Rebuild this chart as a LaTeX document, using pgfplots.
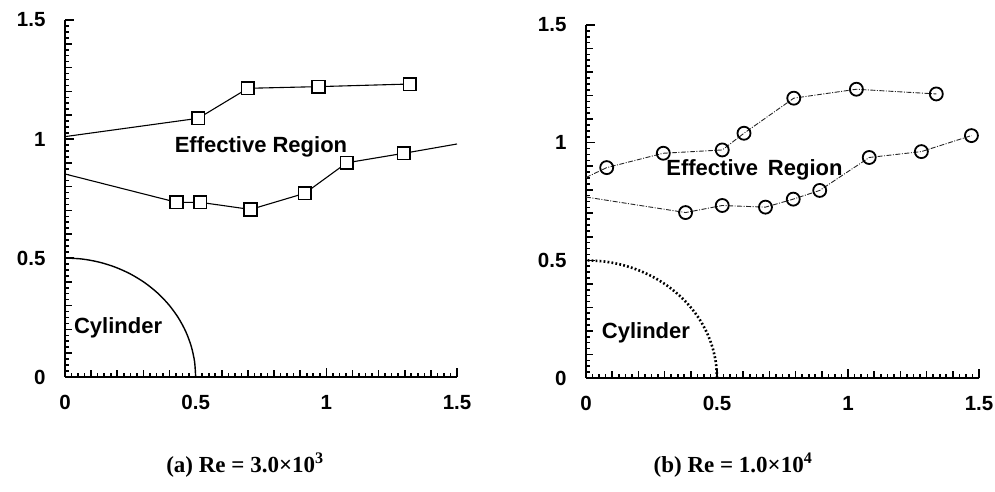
\documentclass[border=0pt]{standalone}
\usepackage{fontspec}
\setmainfont{Liberation Sans}
\newfontfamily\capfont{Liberation Serif}
\usepackage{pgfplots}
\pgfplotsset{compat=1.18}
\tikzset{lbl/.style={font=\bfseries\fontsize{22}{22}\selectfont}}
\pgfplotsset{
 panel/.style={
  scale only axis, clip=false,
  xmin=0,xmax=1.5,ymin=0,ymax=1.5,
  axis x line*=bottom, axis y line*=left,
  axis line style={-, line width=2.6pt},
  xtick={0,0.5,1,1.5}, ytick={0,0.5,1,1.5},
  xticklabels={0,0.5,1,1.5}, yticklabels={0,0.5,1,1.5},
  extra x ticks={0.1,0.2,0.3,0.4,0.6,0.7,0.8,0.9,1.1,1.2,1.3,1.4},
  extra y ticks={0.1,0.2,0.3,0.4,0.6,0.7,0.8,0.9,1.1,1.2,1.3,1.4},
  extra x tick labels={}, extra y tick labels={},
  extra tick style={major tick length=7pt},
  minor xtick={0.025,0.05,0.075,0.125,0.15,0.175,0.225,0.25,0.275,0.325,0.35,0.375,0.425,0.45,0.475,0.525,0.55,0.575,0.625,0.65,0.675,0.725,0.75,0.775,0.825,0.85,0.875,0.925,0.95,0.975,1.025,1.05,1.075,1.125,1.15,1.175,1.225,1.25,1.275,1.325,1.35,1.375,1.425,1.45,1.475},
  minor ytick={0.025,0.05,0.075,0.125,0.15,0.175,0.225,0.25,0.275,0.325,0.35,0.375,0.425,0.45,0.475,0.525,0.55,0.575,0.625,0.65,0.675,0.725,0.75,0.775,0.825,0.85,0.875,0.925,0.95,0.975,1.025,1.05,1.075,1.125,1.15,1.175,1.225,1.25,1.275,1.325,1.35,1.375,1.425,1.45,1.475},
  minor tick length=3.5pt,
  major tick length=9pt,
  every tick/.style={line width=1.6pt, black},
  tick align=inside,
  tick label style={font=\bfseries\fontsize{20.5}{20.5}\selectfont},
  xticklabel style={yshift=-15pt},
  yticklabel style={xshift=-16pt},
 },
 sqline/.style={black, line width=1.1pt},
 sqmark/.style={only marks, mark=square*, mark size=6.3pt, mark options={fill=white, draw=black, line width=1.6pt}},
 cirline/.style={black!85, line width=0.9pt, dash pattern=on 5pt off 1.5pt on 1pt off 1.5pt},
 cirmark/.style={only marks, mark=o, mark size=6.5pt, mark options={draw=black, line width=1.8pt, solid}},
}
\begin{document}
\begin{tikzpicture}[x=1pt,y=1pt]
\useasboundingbox (0,0) rectangle (995,492);
% ---------------- (a) ----------------
\begin{axis}[panel, at={(65pt,115pt)}, anchor=south west, width=392pt, height=357pt]
\addplot[sqline] coordinates {(0,1.01) (0.51,1.087) (0.70,1.213) (0.97,1.22) (1.32,1.231)};
\addplot[sqmark] coordinates {(0.51,1.087) (0.70,1.213) (0.97,1.22) (1.32,1.231)};
\addplot[sqline] coordinates {(0,0.853) (0.427,0.734) (0.517,0.734) (0.71,0.704) (0.918,0.772) (1.078,0.90) (1.297,0.94) (1.5,0.979)};
\addplot[sqmark] coordinates {(0.427,0.734) (0.517,0.734) (0.71,0.704) (0.918,0.772) (1.078,0.90) (1.297,0.94)};
\addplot[black, line width=1.4pt, smooth] coordinates {(0.5,0) (0.49572,0.06526) (0.48296,0.12941) (0.46194,0.19134) (0.43301,0.25) (0.39668,0.30438) (0.35355,0.35355) (0.30438,0.39668) (0.25,0.43301) (0.19134,0.46194) (0.12941,0.48296) (0.06526,0.49572) (0,0.5)};
\node[lbl] at (axis cs:0.75,0.966) {Effective Region};
\node[lbl, anchor=west, inner sep=0pt] at (axis cs:0.034,0.206) {Cylinder};
\end{axis}
% ---------------- (b) ----------------
\begin{axis}[panel, at={(586pt,114pt)}, anchor=south west, width=393pt, height=353pt]
\addplot[cirline] coordinates {(0,0.852) (0.079,0.894) (0.295,0.955) (0.52,0.969) (0.603,1.04) (0.793,1.189) (1.032,1.227) (1.337,1.207)};
\addplot[cirmark] coordinates {(0.079,0.894) (0.295,0.955) (0.52,0.969) (0.603,1.04) (0.793,1.189) (1.032,1.227) (1.337,1.207)};
\addplot[cirline] coordinates {(0,0.769) (0.38,0.703) (0.52,0.733) (0.685,0.726) (0.791,0.760) (0.892,0.797) (1.081,0.937) (1.280,0.962) (1.471,1.03)};
\addplot[cirmark] coordinates {(0.38,0.703) (0.52,0.733) (0.685,0.726) (0.791,0.760) (0.892,0.797) (1.081,0.937) (1.280,0.962) (1.471,1.03)};
\addplot[black, line width=2.6pt, dash pattern=on 1.8pt off 2.2pt, smooth] coordinates {(0.5,0) (0.49572,0.06526) (0.48296,0.12941) (0.46194,0.19134) (0.43301,0.25) (0.39668,0.30438) (0.35355,0.35355) (0.30438,0.39668) (0.25,0.43301) (0.19134,0.46194) (0.12941,0.48296) (0.06526,0.49572) (0,0.5)};
\node[lbl] at (axis cs:0.643,0.885) {Effective\hspace{0.45em}Region};
\node[lbl, anchor=west, inner sep=0pt] at (axis cs:0.06,0.191) {Cylinder};
\end{axis}
% captions
\node[font=\capfont\bfseries\fontsize{23}{23}\selectfont] at (245,27) {(a) Re = 3.0×10\textsuperscript{3}};
\node[font=\capfont\bfseries\fontsize{23}{23}\selectfont] at (733,27) {(b) Re = 1.0×10\textsuperscript{4}};
\end{tikzpicture}
\end{document}
